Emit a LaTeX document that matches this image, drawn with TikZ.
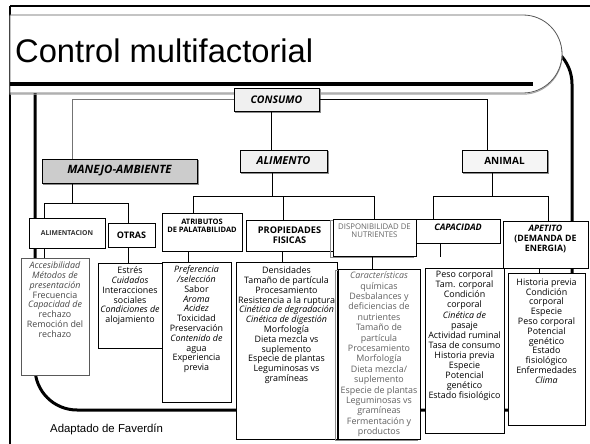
\documentclass[tikz,border=0pt]{standalone}
\usepackage{fontspec}
\setmainfont{Open Sans}
\newfontfamily\arialf{Liberation Sans}
\begin{document}
\begin{tikzpicture}[x=1pt,y=-1pt]
\tikzset{
  box/.style={draw=black, line width=0.7pt, fill=white, inner sep=0pt, anchor=center, align=center},
  conn/.style={draw=black, line width=0.7pt},
  shade/.style={preaction={draw=black!45, line width=0.9pt, transform canvas={xshift=1.2pt,yshift=-1.2pt}}},
  shadeL/.style={preaction={draw=black!45, line width=0.8pt, transform canvas={xshift=-2.5pt,yshift=-1.5pt}}},
  hdrtext/.style={align=center, anchor=north, inner sep=0pt},
  dtext/.style={align=center, anchor=north, inner sep=0pt, font=\fontsize{8.9}{9.8}\selectfont},
}
\useasboundingbox (0,0) rectangle (590,444);
% slide frame
\draw[line width=2.5pt] (10,6) -- (590,6);
\draw[line width=1.5pt] (10,6) -- (10,444);
% enclosure
\draw[line width=3pt, rounded corners=42pt] (35,42) rectangle (572,410);
% title box
\draw[draw=black!65, line width=0.8pt, fill=white, preaction={draw=black!35, line width=1pt, transform canvas={yshift=-1.2pt}}]
  (10,15) -- (523,15) arc[start angle=-90, end angle=90, radius=39] -- (10,93) -- cycle;
\draw[line width=3.2pt] (10,84) -- (533,84);
\node[anchor=base west, inner sep=0pt, font=\arialf\fontsize{32.7}{36}\selectfont] (title) at (15,63) {Control multifactorial};

% level 1
\node[box, shade, fill=black!6, minimum width=85, minimum height=23, font=\bfseries\itshape\fontsize{10.5}{12}\selectfont] (consumo) at (276.5,99.5) {CONSUMO};
% level 2
\node[box, shade, fill=black!20, minimum width=155, minimum height=24, font=\bfseries\itshape\fontsize{11.5}{13}\selectfont] (manejo) at (119.5,171) {MANEJO-AMBIENTE};
\node[box, shade, fill=black!6, minimum width=87, minimum height=22, font=\bfseries\itshape\fontsize{11}{12}\selectfont] (alimento) at (283.5,161) {ALIMENTO};
\node[box, shade, fill=black!4, minimum width=85, minimum height=22, font=\bfseries\fontsize{10}{12}\selectfont] (animal) at (504.5,161) {ANIMAL};

% level 3
\node[box, minimum width=76, minimum height=30, text=black!80, font=\bfseries\fontsize{6.8}{8}\selectfont] (alimentacion) at (67,233) {ALIMENTACION};
\node[box, minimum width=47, minimum height=24, font=\bfseries\fontsize{9}{10}\selectfont] (otras) at (131.5,235) {OTRAS};
\node[box, minimum width=80, minimum height=38] (atributos) at (202,232) {};
\node[hdrtext, font=\bfseries\fontsize{7.5}{8.5}\selectfont] (atributosT) at ([yshift=-6pt]atributos.north) {ATRIBUTOS\\DE PALATABILIDAD};
\node[box, minimum width=87, minimum height=31, font=\bfseries\fontsize{9.2}{9.8}\selectfont] (propiedades) at (289.5,235.5) {PROPIEDADES\\FISICAS};
\node[box, shadeL, minimum width=83, minimum height=37] (disponib) at (374.5,237.5) {};
\node[hdrtext, text=black!60, font=\fontsize{7.8}{8}\selectfont] (disponibT) at ([yshift=-5pt]disponib.north) {DISPONIBILIDAD DE\\NUTRIENTES};
\node[box, minimum width=84, minimum height=24] (capacidad) at (458,231) {};
\node[hdrtext, font=\bfseries\itshape\fontsize{9}{10}\selectfont] (capacidadT) at ([yshift=-5pt]capacidad.north) {CAPACIDAD};
\node[box, minimum width=85, minimum height=47] (apetito) at (545.5,244.5) {};
\node[hdrtext, font=\bfseries\fontsize{8.8}{10}\selectfont] (apetitoT) at ([yshift=-4pt]apetito.north) {\textit{APETITO}\\(DEMANDA DE\\ENERGIA)};

% level 4
\node[box, draw=black!65, minimum width=68, minimum height=117] (acc) at (55,316.5) {};
\node[dtext, text=black!72] (accT) at ([yshift=-4pt]acc.north) {\textit{Accesibilidad}\\\textit{Métodos de}\\\textit{presentación}\\Frecuencia\\\textit{Capacidad de}\\rechazo\\Remoción del\\rechazo};
\node[box, minimum width=64, minimum height=85] (estres) at (130,305.5) {};
\node[dtext] (estresT) at ([yshift=-4pt]estres.north) {Estrés\\\textit{Cuidados}\\Interacciones\\sociales\\\textit{Condiciones de}\\alojamiento};
\node[box, minimum width=69, minimum height=140] (pref) at (196.5,332) {};
\node[dtext] (prefT) at ([yshift=-4pt]pref.north) {\textit{Preferencia}\\\textit{/selección}\\Sabor\\\textit{Aroma}\\\textit{Acidez}\\Toxicidad\\Preservación\\\textit{Contenido de}\\agua\\Experiencia\\previa};
\node[box, minimum width=101, minimum height=177] (dens) at (286.5,350.5) {};
\node[dtext] (densT) at ([yshift=-5pt]dens.north) {Densidades\\Tamaño de partícula\\Procesamiento\\Resistencia a la ruptura\\\textit{Cinética de degradación}\\\textit{Cinética de digestión}\\Morfología\\Dieta mezcla vs\\suplemento\\Especie de plantas\\Leguminosas vs\\gramíneas};
\node[box, shadeL, minimum width=82, minimum height=170] (carac) at (379,354) {};
\node[dtext, text=black!62, font=\fontsize{8.9}{10.4}\selectfont] (caracT) at ([yshift=-3pt]carac.north) {\textit{Características}\\químicas\\Desbalances y\\deficiencias de\\nutrientes\\Tamaño de\\partícula\\Procesamiento\\Morfología\\Dieta mezcla/\\suplemento\\Especie de plantas\\Leguminosas vs\\gramíneas\\Fermentación y\\productos};
\node[box, minimum width=79, minimum height=165] (peso) at (464.5,350.5) {};
\node[dtext, font=\fontsize{8.9}{10.1}\selectfont] (pesoT) at ([yshift=-3pt]peso.north) {Peso corporal\\Tam. corporal\\Condición\\corporal\\\textit{Cinética de}\\pasaje\\Actividad ruminal\\Tasa de consumo\\Historia previa\\Especie\\Potencial\\genético\\Estado fisiológico};
\node[box, minimum width=77, minimum height=152] (hist) at (546.5,349) {};
\node[dtext] (histT) at ([yshift=-6pt]hist.north) {Historia previa\\Condición\\corporal\\Especie\\Peso corporal\\Potencial\\genético\\Estado\\fisiológico\\Enfermedades\\\textit{Clima}};

% connectors level1 -> level2
\draw[conn, draw=black!55] (consumo.west) -| ([xshift=-47.5pt]manejo.north);
\draw[conn] ([xshift=-5pt]consumo.south) coordinate (cs) -- (cs |- alimento.north);
\draw[conn] (consumo.east) -| ([xshift=-17.5pt]animal.north);
% level2 -> level3
\draw[conn] ([xshift=-47.5pt]manejo.south) -- ++(0,20) coordinate (mj);
\draw[conn] ([xshift=-23pt]alimentacion.north) |- (mj) -| ([xshift=-3.5pt]otras.north);
\draw[conn] ([xshift=-11pt]alimento.south) -- ++(0,24) coordinate (al);
\draw[conn] ([xshift=-9pt]atributos.north) |- (al) -| (disponib.north);
\draw[conn] ([xshift=-6.5pt]propiedades.north) -- ([xshift=-6.5pt]propiedades.north |- al);
\draw[conn] ([xshift=-12.5pt]animal.south) -- ++(0,24) coordinate (an);
\draw[conn] ([xshift=-25pt]capacidad.north) |- (an) -| ([xshift=2.5pt]apetito.north);
% level3 -> level4
\draw[conn] ([xshift=-23pt]alimentacion.south) -- ([xshift=-23pt]alimentacion.south |- acc.north);
\draw[conn] ([xshift=-3.5pt]otras.south) -- ([xshift=-3.5pt]otras.south |- estres.north);
\draw[conn] ([xshift=-14pt]atributos.south) -- ([xshift=-14pt]atributos.south |- pref.north);
\draw[conn] ([xshift=-7.5pt]propiedades.south) -- ([xshift=-7.5pt]propiedades.south |- dens.north);
\draw[conn] ([xshift=-2.5pt]disponib.south) -- ([xshift=-2.5pt]disponib.south |- carac.north);
\draw[conn] ([xshift=-18pt]capacidad.south) -- ++(0,14) coordinate (capend);
\draw[conn] ([xshift=-6.5pt]apetito.south) -- ([xshift=-6.5pt]apetito.south |- hist.north);

\node[anchor=west, inner sep=0pt, font=\arialf\fontsize{11.4}{13}\selectfont] (src) at (50,429) {Adaptado de Faverdín};
\end{tikzpicture}
\end{document}
